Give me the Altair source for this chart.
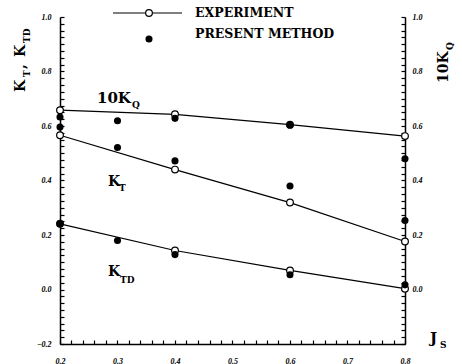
import altair as alt
import pandas as pd

# ---- data ----
J_exp = [0.2, 0.4, 0.6, 0.8]
kt_exp = [0.566, 0.440, 0.319, 0.176]
ktd_exp = [0.241, 0.143, 0.070, 0.003]
kq_exp = [0.658, 0.643, 0.605, 0.563]

J_pm = [0.2, 0.3, 0.4, 0.6, 0.8]
kt_pm = [0.596, 0.521, 0.472, 0.380, 0.253]
ktd_pm = [0.241, 0.180, 0.128, 0.054, 0.017]
kq_pm = [0.633, 0.619, 0.628, 0.603, 0.480]

# tick positions (labels shown only on the 0.1 / 0.2 steps)
x_ticks = [round(0.2 + 0.02 * i, 2) for i in range(31)]
y_ticks = [round(-0.2 + 0.025 * i, 3) for i in range(49)]

W, H = 345, 327
XMIN, XMAX, YMIN, YMAX = 0.2, 0.8, -0.2, 1.0
SERIF = "DejaVu Serif"
TICKF = "Liberation Serif"
TICK = 4

xs = alt.Scale(domain=[XMIN, XMAX], nice=False, zero=False)
ys = alt.Scale(domain=[YMIN, YMAX], nice=False, zero=False)

lab = dict(labelFont=TICKF, labelFontStyle="italic", labelFontWeight="bold", labelFontSize=8,
           labelColor="black", ticks=True, tickColor="black", tickWidth=1.2,
           tickSize={"expr": f"-{TICK}"}, domainColor="black", domainWidth=1.5, grid=False,
           title=None, labelOverlap=False, labelBound=False, labelFlush=False)
x_axis = alt.Axis(values=x_ticks, labelPadding=13 + TICK,
                  labelExpr="abs(datum.value*10 - round(datum.value*10)) < 0.001 ? format(datum.value, '.1f') : ''",
                  **lab)
left_axis = alt.Axis(orient="left", values=y_ticks, labelPadding=9 + TICK,
                     labelExpr="abs(datum.value*5 - round(datum.value*5)) < 0.001 ? format(datum.value, '.1f') : ''",
                     **lab)
right_axis = alt.Axis(orient="right", values=y_ticks, labelPadding=7 + TICK,
                      labelExpr="datum.value > -0.1 && abs(datum.value*5 - round(datum.value*5)) < 0.001 ? format(datum.value, '.1f') : ''",
                      **lab)


def Xf(field="J"):
    return alt.X(f"{field}:Q", scale=xs, axis=x_axis)


def Yf(field="v", axis=None):
    return alt.Y(f"{field}:Q", scale=ys, axis=axis)


def df(j, v):
    return pd.DataFrame({"J": j, "v": v})


def series(j_e, v_e, j_p, v_p, axis=None):
    line = alt.Chart(df(j_e, v_e)).mark_line(color="black", strokeWidth=1.2).encode(
        x=Xf(), y=Yf(axis=axis))
    open_pts = alt.Chart(df(j_e, v_e)).mark_point(
        shape="circle", filled=True, fill="white", stroke="black", strokeWidth=1.2,
        size=45, opacity=1).encode(x=Xf(), y=Yf())
    pm_pts = alt.Chart(df(j_p, v_p)).mark_point(
        shape="circle", filled=True, color="black", size=50, opacity=1).encode(x=Xf(), y=Yf())
    return [line, open_pts, pm_pts]


def txt(t, x, y, size, angle=0, font=SERIF, weight="bold"):
    kw = dict(font=font, fontSize=size, fontWeight=weight, color="black", align="left",
              baseline="alphabetic")
    if angle:
        kw["angle"] = angle
    return alt.Chart(pd.DataFrame({"t": [t]})).mark_text(**kw).encode(
        text="t:N", x=alt.value(x), y=alt.value(y))


texts = [
    txt("10K", 37, 86, 15), txt("Q", 72, 91, 9),
    txt("K", 48, 169, 14), txt("T", 59, 174, 9),
    txt("K", 48, 259, 14), txt("TD", 60, 266, 9),
    txt("J", 370, 326, 15), txt("S", 380, 331, 9),
    txt("K", -35, 75, 14, 270), txt("T", -30, 60, 9, 270), txt(",", -35, 52, 14, 270),
    txt("K", -35, 40, 14, 270), txt("TD", -30, 26, 9, 270),
    txt("10K", 388, 66, 14, 270), txt("Q", 393, 33, 9, 270),
    txt("EXPERIMENT", 135, 0, 12.5), txt("PRESENT METHOD", 135, 21, 12.5),
]

leg_line = alt.Chart(pd.DataFrame({"a": [0]})).mark_rule(color="black", strokeWidth=1.2).encode(
    x=alt.value(53), x2=alt.value(122), y=alt.value(-4))
leg_open = alt.Chart(pd.DataFrame({"a": [0]})).mark_point(
    shape="circle", filled=True, fill="white", stroke="black", strokeWidth=1.2, size=45,
    opacity=1).encode(x=alt.value(89), y=alt.value(-4))
leg_fill = alt.Chart(pd.DataFrame({"a": [0]})).mark_point(
    shape="circle", filled=True, color="black", size=50, opacity=1).encode(
    x=alt.value(89), y=alt.value(22))

layers = [
    *series(J_exp, kt_exp, J_pm, kt_pm, left_axis),
    *series(J_exp, ktd_exp, J_pm, ktd_pm),
    *series(J_exp, kq_exp, J_pm, kq_pm, right_axis),
    *texts, leg_line, leg_open, leg_fill,
]

chart = alt.layer(*layers).resolve_scale(y="independent").properties(
    width=W, height=H,
    padding={"left": 60, "top": 17, "right": 57, "bottom": 20},
    autosize=alt.AutoSizeParams(type="none"),
    background="white",
).configure_view(stroke=None)

chart.save("out.html", embed_options={"renderer": "svg", "actions": False})
